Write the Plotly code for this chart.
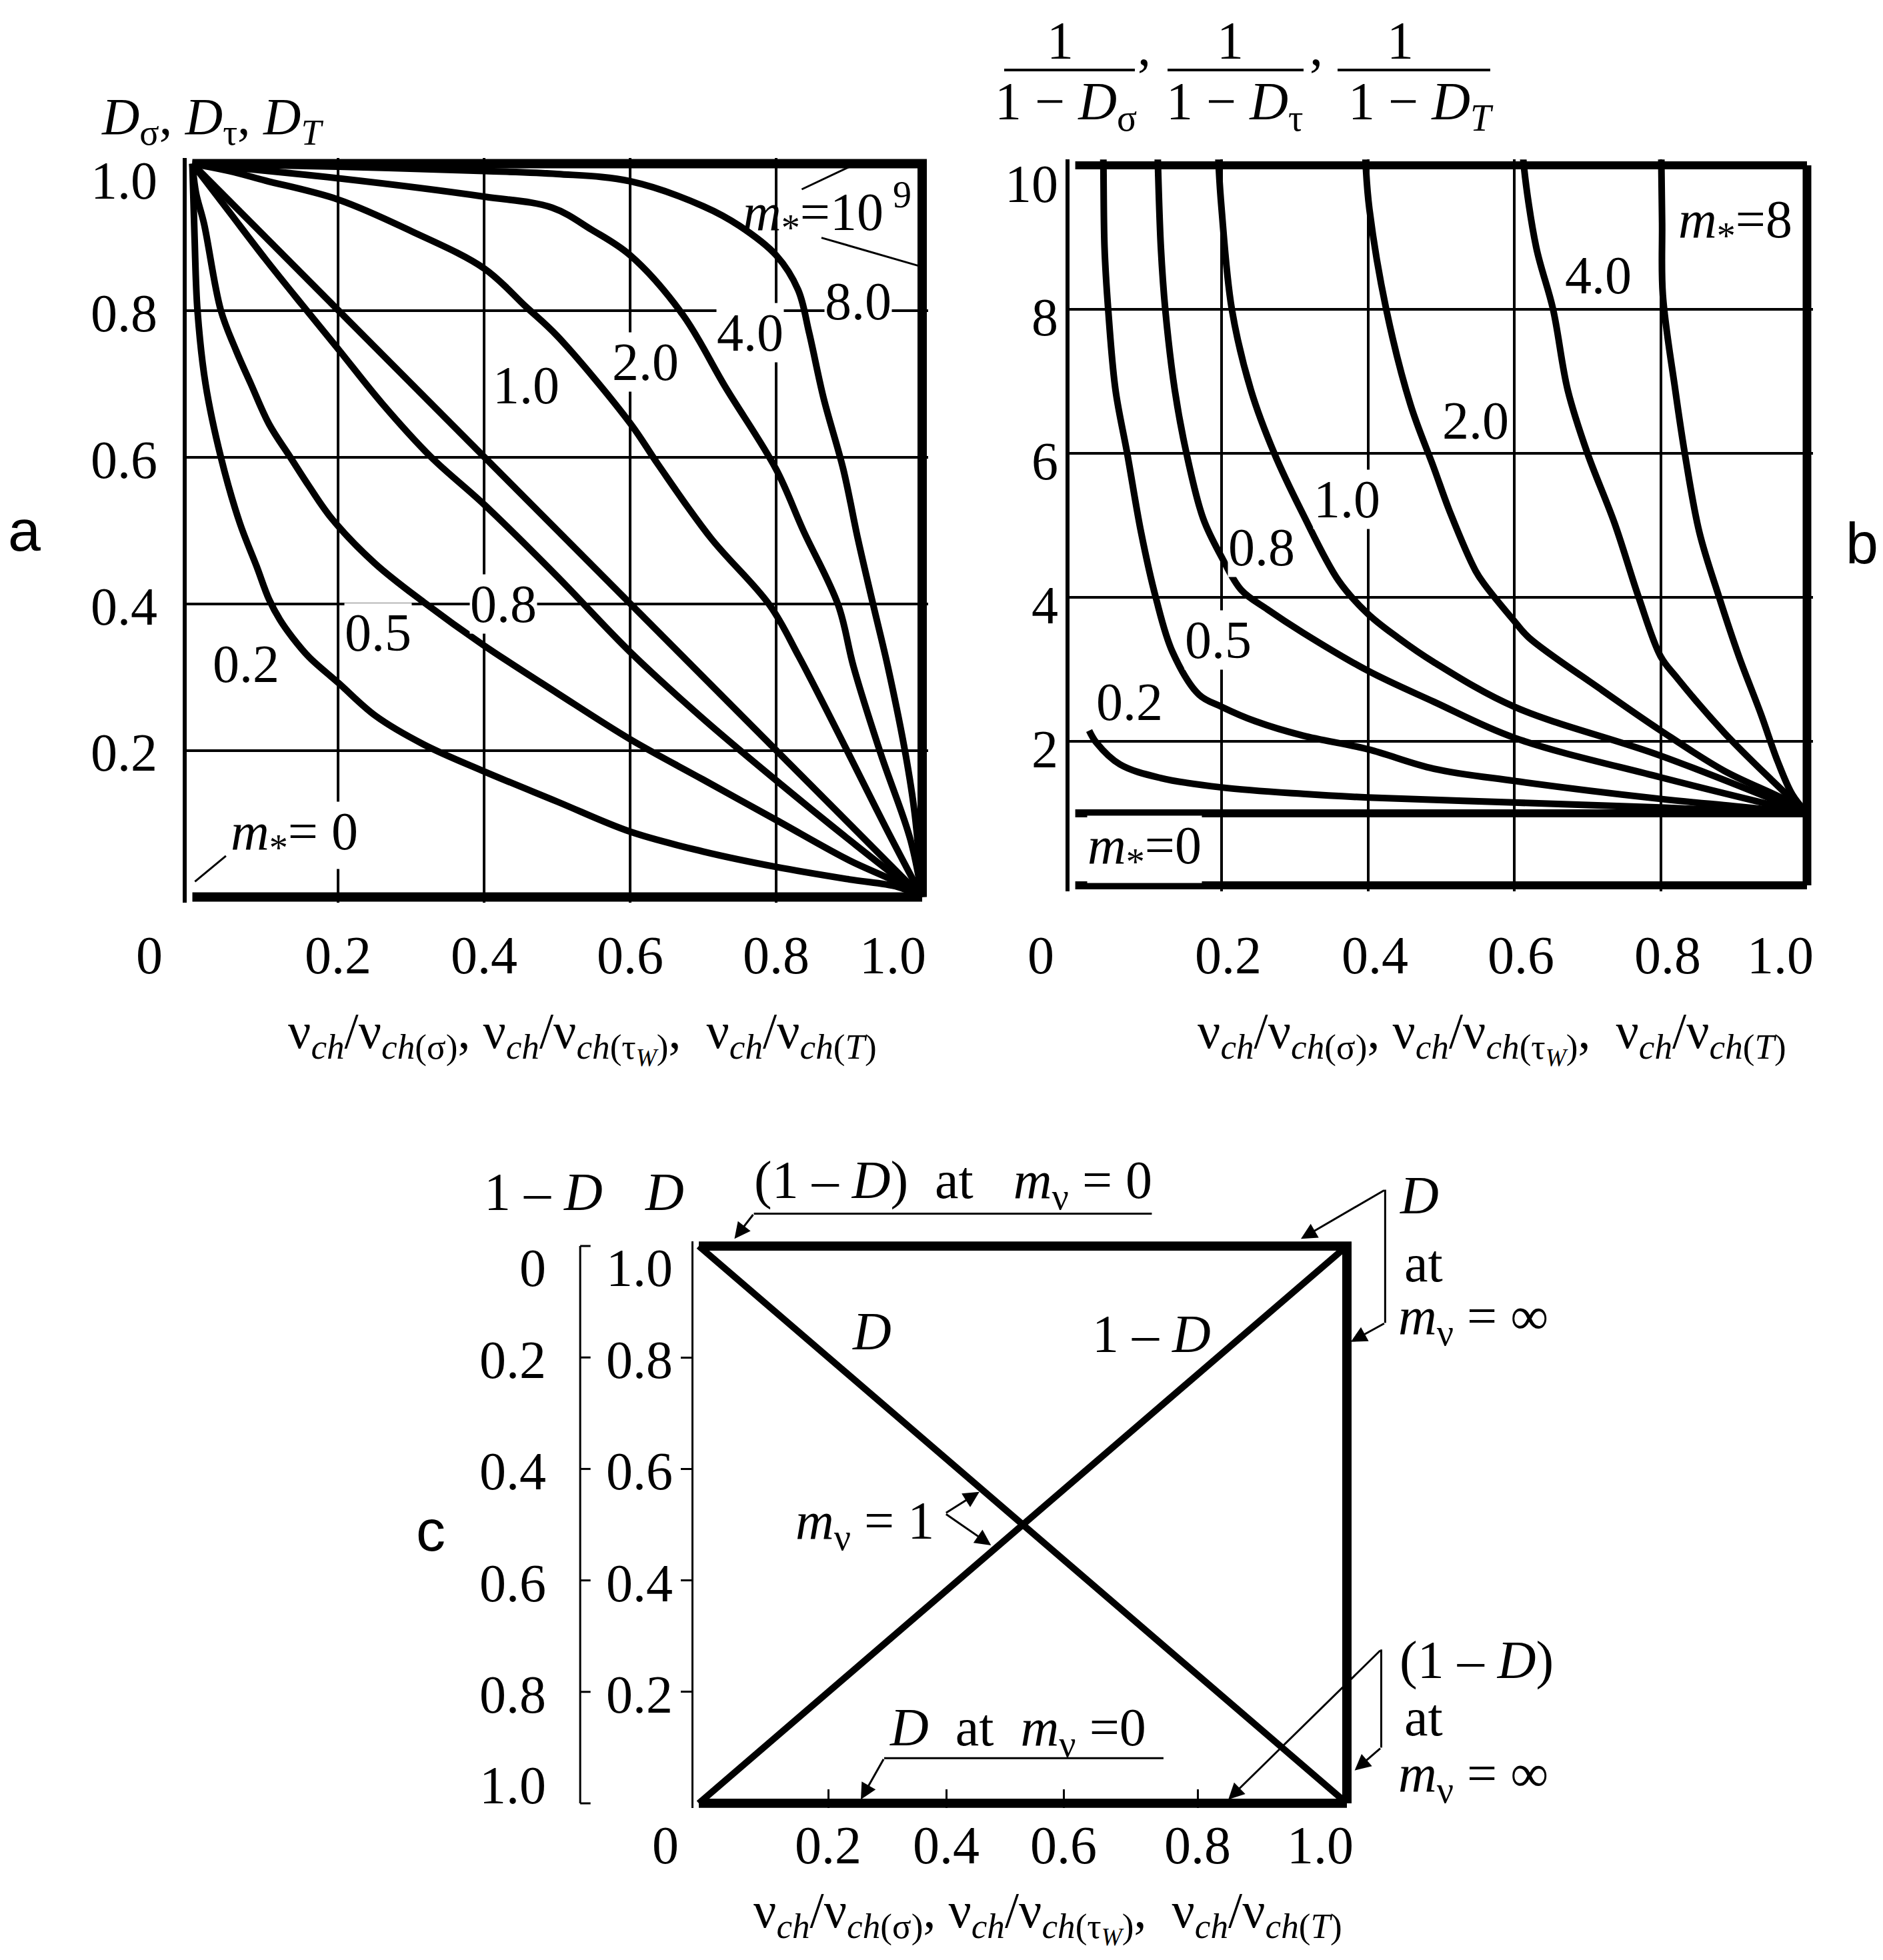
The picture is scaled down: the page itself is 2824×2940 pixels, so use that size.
import plotly.graph_objects as go

W, H = 2824, 2940
SERIF = "Liberation Serif"
SANS = "Liberation Sans"

# ---------------- Panel a : D versus relative frequency ----------------
A_M_LABELS = ["0.2", "0.5", "0.8", "1.0", "2.0", "4.0", "8.0"]
a_x_02 = [0, 0.003, 0.007, 0.018, 0.039, 0.065, 0.088, 0.105, 0.12, 0.137, 0.16, 0.2, 0.251, 0.317, 0.398, 0.5, 0.6, 0.7, 0.8, 0.9, 0.966, 1.0]
a_y_02 = [1, 0.9, 0.8, 0.7, 0.6, 0.51, 0.451, 0.406, 0.378, 0.354, 0.327, 0.292, 0.247, 0.208, 0.172, 0.13, 0.089, 0.062, 0.041, 0.024, 0.014, 0]
a_x_05 = [0, 0.005, 0.016, 0.039, 0.06, 0.08, 0.105, 0.134, 0.16, 0.191, 0.25, 0.317, 0.398, 0.5, 0.6, 0.7, 0.8, 0.9, 0.966, 1.0]
a_y_05 = [1, 0.96, 0.918, 0.8, 0.745, 0.7, 0.645, 0.6, 0.56, 0.516, 0.455, 0.402, 0.344, 0.278, 0.215, 0.16, 0.105, 0.05, 0.02, 0]
a_x_08 = [0, 0.05, 0.1, 0.15, 0.2, 0.26, 0.327, 0.4, 0.5, 0.6, 0.7, 0.8, 0.9, 1.0]
a_y_08 = [1, 0.935, 0.87, 0.808, 0.747, 0.673, 0.6, 0.535, 0.437, 0.334, 0.243, 0.159, 0.078, 0]
a_x_10 = [0, 1.0]
a_y_10 = [1, 0]
a_x_20 = [0, 0.05, 0.1, 0.2, 0.3, 0.4, 0.457, 0.5, 0.6, 0.638, 0.71, 0.791, 0.831, 0.899, 0.95, 1.0]
a_y_20 = [1, 0.99, 0.977, 0.951, 0.908, 0.857, 0.805, 0.765, 0.646, 0.59, 0.49, 0.398, 0.328, 0.196, 0.095, 0]
a_x_40 = [0, 0.2, 0.4, 0.493, 0.547, 0.6, 0.672, 0.73, 0.8, 0.837, 0.885, 0.906, 0.943, 0.984, 1.0]
a_y_40 = [1, 0.98, 0.955, 0.94, 0.91, 0.875, 0.794, 0.696, 0.583, 0.5, 0.398, 0.314, 0.196, 0.078, 0]
a_x_80 = [0, 0.2, 0.4, 0.5, 0.6, 0.7, 0.75, 0.8, 0.83, 0.845, 0.865, 0.892, 0.912, 0.933, 0.953, 0.977, 0.99, 1.0]
a_y_80 = [1, 0.996, 0.99, 0.986, 0.976, 0.942, 0.915, 0.875, 0.828, 0.77, 0.68, 0.583, 0.488, 0.398, 0.314, 0.196, 0.112, 0]
a_x_m0 = [0, 1.0]
a_y_m0 = [0, 0]
a_x_minf = [0, 1.0, 1.0]
a_y_minf = [1, 1, 0]
A_TICKS = [0, 0.2, 0.4, 0.6, 0.8, 1.0]
A_TICK_TEXT = ["0", "0.2", "0.4", "0.6", "0.8", "1.0"]
A_YTICKS = [1.0, 0.8, 0.6, 0.4, 0.2]
A_YTICK_TEXT = ["1.0", "0.8", "0.6", "0.4", "0.2"]

# ---------------- Panel b : 1/(1-D) ----------------
B_M_LABELS = ["0.2", "0.5", "0.8", "1.0", "2.0", "4.0"]
b_x_02 = [0.019, 0.029, 0.061, 0.117, 0.2, 0.311, 0.4, 0.6, 0.8, 1.0]
b_y_02 = [2.15, 1.98, 1.68, 1.49, 1.36, 1.27, 1.22, 1.15, 1.08, 1.0]
b_x_05 = [0.038, 0.0385, 0.04, 0.045, 0.055, 0.071, 0.09, 0.11, 0.133, 0.169, 0.2, 0.246, 0.311, 0.4, 0.49, 0.6, 0.8, 0.9, 1.0]
b_y_05 = [10.4, 10.0, 8.86, 8.0, 6.88, 6.0, 4.9, 4.0, 3.24, 2.65, 2.48, 2.28, 2.08, 1.89, 1.62, 1.45, 1.2, 1.1, 1.0]
b_x_08 = [0.112, 0.113, 0.117, 0.123, 0.136, 0.152, 0.175, 0.2, 0.227, 0.263, 0.311, 0.4, 0.49, 0.6, 0.8, 1.0]
b_y_08 = [10.4, 10.0, 8.86, 8.0, 6.88, 6.0, 5.09, 4.56, 4.1, 3.83, 3.51, 2.98, 2.55, 2.05, 1.5, 1.0]
b_x_10 = [0.195, 0.196, 0.2, 0.214, 0.24, 0.272, 0.311, 0.36, 0.4, 0.441, 0.49, 0.6, 0.8, 1.0]
b_y_10 = [10.4, 10.0, 9.39, 8.0, 6.88, 6.0, 5.16, 4.23, 3.77, 3.44, 3.1, 2.48, 1.8, 1.0]
b_x_20 = [0.396, 0.397, 0.402, 0.425, 0.458, 0.49, 0.513, 0.547, 0.56, 0.6, 0.62, 0.72, 0.8, 0.887, 0.97, 1.0]
b_y_20 = [10.4, 10.0, 9.39, 8.0, 6.68, 5.8, 5.16, 4.37, 4.17, 3.67, 3.44, 2.71, 2.15, 1.59, 1.19, 1.0]
b_x_40 = [0.611, 0.613, 0.63, 0.653, 0.673, 0.7, 0.737, 0.77, 0.8, 0.82, 0.887, 0.953, 1.0]
b_y_40 = [10.4, 10.0, 8.86, 8.0, 6.88, 6.0, 5.03, 4.0, 3.18, 2.91, 2.12, 1.45, 1.0]
b_x_80 = [0.801, 0.801, 0.802, 0.803, 0.82, 0.833, 0.853, 0.88, 0.907, 0.937, 0.96, 0.98, 1.0]
b_y_80 = [10.4, 10.0, 9.2, 8.2, 6.88, 6.0, 4.9, 4.0, 3.18, 2.38, 1.72, 1.26, 1.0]
b_x_m0 = [0, 1.0]
b_y_m0 = [1, 1]
B_XTICKS = [0, 0.2, 0.4, 0.6, 0.8, 1.0]
B_XTICK_TEXT = ["0", "0.2", "0.4", "0.6", "0.8", "1.0"]
B_YTICKS = [10, 8, 6, 4, 2]
B_YTICK_TEXT = ["10", "8", "6", "4", "2"]

# ---------------- Panel c : D and 1-D, limit cases ----------------
c_x_D1 = [0, 1.0]
c_y_D1 = [1, 0]
c_x_1mD1 = [0, 1.0]
c_y_1mD1 = [0, 1]
c_x_Dinf = [0, 1.0, 1.0]
c_y_Dinf = [1, 1, 0]
c_x_D0 = [0, 1.0]
c_y_D0 = [0, 0]
C_XTICKS = [0.2, 0.382, 0.563, 0.77]
C_XTICK_TEXT = ["0.2", "0.4", "0.6", "0.8"]
C_YTICKS = [1.0, 0.8, 0.6, 0.4, 0.2, 0.0]
C_D_TEXT = ["1.0", "0.8", "0.6", "0.4", "0.2", ""]
C_1MD_TEXT = ["0", "0.2", "0.4", "0.6", "0.8", "1.0"]

XTITLE = ("ν<sub><i>ch</i></sub>/ν<sub><i>ch</i>(σ)</sub>, "
          "ν<sub><i>ch</i></sub>/ν<sub><i>ch</i>(τ<sub><i>W</i></sub>)</sub>,  "
          "ν<sub><i>ch</i></sub>/ν<sub><i>ch</i>(<i>T</i>)</sub>")

# axis ranges of each panel and pixel scale (px per data unit, origin pixel)
RANGES = {
    "a": ((-0.008, 1.008), (-0.008, 1.008), "x", "y"),
    "b": ((-0.008, 1.008), (-0.08, 10.08), "x2", "y2"),
    "c": ((-0.008, 1.008), (-0.008, 1.008), "x3", "y3"),
}
PIX = {  # (x origin px, px per unit x, y origin px, px per unit y)
    "a": (280.5, 1094.5, 1337.5, 1100.0),
    "b": (1604.6, 1097.4, 1320.0, 108.0),
    "c": (1040.0, 972.0, 2697.0, 836.0),
}


def domains(p):
    (x0, x1), (y0, y1), _, _ = RANGES[p]
    ox, sx, oy, sy = PIX[p]
    return ([(ox + x0 * sx) / W, (ox + x1 * sx) / W],
            [1 - (oy - y0 * sy) / H, 1 - (oy - y1 * sy) / H])


fig = go.Figure()


def line(x, y, xa, ya, w=10, smooth=True):
    fig.add_trace(go.Scatter(
        x=x, y=y, mode="lines", xaxis=xa, yaxis=ya, showlegend=False, hoverinfo="skip",
        line=dict(color="black", width=w, shape="spline" if smooth else "linear",
                  smoothing=1.0 if smooth else None)))


for xs, ys in [(a_x_02, a_y_02), (a_x_05, a_y_05), (a_x_08, a_y_08), (a_x_10, a_y_10),
               (a_x_20, a_y_20), (a_x_40, a_y_40), (a_x_80, a_y_80)]:
    line(xs, ys, "x", "y", 10)
line(a_x_m0, a_y_m0, "x", "y", 14, False)
line(a_x_minf, a_y_minf, "x", "y", 14, False)

for xs, ys in [(b_x_02, b_y_02), (b_x_05, b_y_05), (b_x_08, b_y_08), (b_x_10, b_y_10),
               (b_x_20, b_y_20), (b_x_40, b_y_40), (b_x_80, b_y_80)]:
    line(xs, ys, "x2", "y2", 10)
line(b_x_m0, b_y_m0, "x2", "y2", 12, False)

line(c_x_D1, c_y_D1, "x3", "y3", 10, False)
line(c_x_1mD1, c_y_1mD1, "x3", "y3", 10, False)
line(c_x_Dinf, c_y_Dinf, "x3", "y3", 14, False)
line(c_x_D0, c_y_D0, "x3", "y3", 14, False)


def P(X, Y):
    return X / W, 1 - Y / H


AX = dict(showticklabels=False, zeroline=False, ticks="", fixedrange=True)
dax, day = domains("a")
dbx, dby = domains("b")
dcx, dcy = domains("c")
fig.update_layout(
    width=W, height=H, autosize=False, margin=dict(l=0, r=0, t=0, b=0),
    paper_bgcolor="white", plot_bgcolor="white",
    xaxis=dict(AX, domain=dax, range=list(RANGES["a"][0]), showgrid=True,
               tickvals=[0.2, 0.4, 0.6, 0.8], gridcolor="black", gridwidth=3.5, anchor="y"),
    yaxis=dict(AX, domain=day, range=list(RANGES["a"][1]), showgrid=True,
               tickvals=[0.2, 0.4, 0.6, 0.8], gridcolor="black", gridwidth=3.5,
               showline=True, linecolor="black", linewidth=6, anchor="x"),
    xaxis2=dict(AX, domain=dbx, range=list(RANGES["b"][0]), showgrid=True,
                tickvals=[0.2, 0.4, 0.6, 0.8], gridcolor="black", gridwidth=3.5, anchor="y2"),
    yaxis2=dict(AX, domain=dby, range=list(RANGES["b"][1]), showgrid=True,
                tickvals=[2, 4, 6, 8], gridcolor="black", gridwidth=3.5,
                showline=True, linecolor="black", linewidth=6, anchor="x2"),
    xaxis3=dict(zeroline=False, fixedrange=True, domain=dcx,
                range=list(RANGES["c"][0]), showgrid=False, showticklabels=False,
                tickvals=C_XTICKS, ticks="inside", ticklen=28, tickwidth=3, tickcolor="black",
                anchor="y3"),
    yaxis3=dict(zeroline=False, fixedrange=True, domain=dcy,
                range=list(RANGES["c"][1]), showgrid=False, showticklabels=False,
                tickvals=[0.2, 0.4, 0.6, 0.8], ticks="outside", ticklen=16, tickwidth=3,
                tickcolor="black", showline=True, linecolor="black", linewidth=3, anchor="x3"),
)

shapes = []
anns = []


def D(panel, x, y):
    """data value -> axis-domain fraction, so that out-of-range texts are still drawn"""
    (x0, x1), (y0, y1), xa, ya = RANGES[panel]
    return (x - x0) / (x1 - x0), (y - y0) / (y1 - y0), xa + " domain", ya + " domain"


def seg(panel, x0, y0, x1, y1, w=3):
    if panel == "paper":
        a0, b0, xr, yr = x0, y0, "paper", "paper"
        a1, b1 = x1, y1
    else:
        a0, b0, xr, yr = D(panel, x0, y0)
        a1, b1, _, _ = D(panel, x1, y1)
    shapes.append(dict(type="line", x0=a0, y0=b0, x1=a1, y1=b1, xref=xr, yref=yr,
                       line=dict(color="black", width=w), layer="above"))


def txt(text, panel, x, y, size=80, xanchor="center", yanchor="middle", bg=None,
        font=SERIF, xshift=0, yshift=0):
    if panel == "paper":
        px, py, xr, yr = x, y, "paper", "paper"
    else:
        px, py, xr, yr = D(panel, x, y)
    d = dict(text=text, x=px, y=py, xref=xr, yref=yr, showarrow=False, xanchor=xanchor,
             yanchor=yanchor, font=dict(family=font, size=size, color="black"),
             xshift=xshift, yshift=yshift, borderpad=0)
    if bg:
        d["bgcolor"] = bg
    anns.append(d)


def arrow(panel, xh, yh, xt, yt):
    hx, hy, xr, yr = D(panel, xh, yh)
    tx, ty, _, _ = D(panel, xt, yt)
    anns.append(dict(text="", x=hx, y=hy, ax=tx, ay=ty, xref=xr, yref=yr,
                     axref=xr, ayref=yr, showarrow=True, arrowhead=2, arrowsize=1.6,
                     arrowwidth=3, arrowcolor="black", standoff=0, startstandoff=0))


# ---- panel a annotations ----
A_LBL_POS = [(0.0736, 0.318), (0.254, 0.36), (0.426, 0.40), (0.457, 0.698),
             (0.621, 0.73), (0.764, 0.77), (0.9126, 0.812)]
for lab, (x, y) in zip(A_M_LABELS, A_LBL_POS):
    txt(lab, "a", x, y, bg="white")
txt("<i>m</i><sub>*</sub>=10<sup> 9</sup>", "a", 0.87, 0.935)
seg("a", 0.835, 0.965, 0.903, 0.997)
seg("a", 0.862, 0.899, 0.994, 0.861)
txt("<i>m</i><sub>*</sub>= 0", "a", 0.14, 0.084, bg="white")
seg("a", 0.046, 0.056, 0.0035, 0.021)

for v, t in zip(A_TICKS, A_TICK_TEXT):
    xs = -65 if v == 0 else (-44 if v == 1.0 else 0)
    txt(t, "a", v, -0.0795, xshift=xs)
for v, t in zip(A_YTICKS, A_YTICK_TEXT):
    ys = -25 if v == 1.0 else -4
    txt(t, "a", -0.047, v, xanchor="right", yshift=ys)

# ---- panel b annotations ----
B_LBL_POS = [(0.074, 2.55), (0.195, 3.41), (0.255, 4.69), (0.371, 5.36),
             (0.547, 6.45), (0.715, 8.47)]
for lab, (x, y) in zip(B_M_LABELS, B_LBL_POS):
    txt(lab, "b", x, y, bg="white")
txt("<i>m</i><sub>*</sub>=8", "b", 0.902, 9.19, bg="white")
txt("<i>m</i><sub>*</sub>=0", "b", 0.095, 0.5, bg="white")
for v, t in zip(B_XTICKS, B_XTICK_TEXT):
    xs = -52 if v == 0 else (-40 if v == 1.0 else 10)
    txt(t, "b", v, -0.97, xshift=xs)
for v, t in zip(B_YTICKS, B_YTICK_TEXT):
    ys = -28 if v == 10 else -12
    txt(t, "b", -0.022, v, xanchor="right", yshift=ys)
# frame of b (top, right, bottom)
seg("b", 0, 10.0, 1.0, 10.0, 12)
seg("b", 1.0, 0, 1.0, 10.0, 13)
seg("b", 0, 0, 1.0, 0, 12)

# ---- panel c annotations ----
for v, t in zip(C_XTICKS + [1.0, 0.0], C_XTICK_TEXT + ["1.0", "0"]):
    xs = -40 if v == 1.0 else (-50 if v == 0 else 0)
    txt(t, "c", v, -0.075, xshift=xs)
for v, t1, t2 in zip(C_YTICKS, C_D_TEXT, C_1MD_TEXT):
    ys = -33 if v == 1.0 else (27 if v == 0 else -4)
    if t1:
        txt(t1, "c", -0.039, v, xanchor="right", yshift=ys)
    txt(t2, "c", -0.235, v, xanchor="right", yshift=ys)
# bracket for the 1-D scale
seg("c", -0.183, 0, -0.183, 1.0)
for v in C_YTICKS:
    seg("c", -0.183, v, -0.167, v)

txt("1 – <i>D</i>", "c", -0.24, 1.097)
txt("<i>D</i>", "c", -0.053, 1.097)
txt("(1 – <i>D</i>)  at   <i>m</i><sub>ν</sub> = 0", "c", 0.392, 1.111)
seg("c", 0.085, 1.058, 0.699, 1.058)
arrow("c", 0.055, 1.013, 0.085, 1.058)

txt("<i>D</i>", "c", 1.112, 1.091)
txt("at", "c", 1.118, 0.969)
txt("<i>m</i><sub>ν</sub> = ∞", "c", 1.195, 0.867)
seg("c", 1.059, 1.101, 1.059, 0.862)
arrow("c", 0.929, 1.013, 1.059, 1.101)
arrow("c", 1.006, 0.828, 1.059, 0.862)

txt("<i>D</i>", "c", 0.267, 0.847)
txt("1 – <i>D</i>", "c", 0.699, 0.842)
txt("<i>m</i><sub>ν</sub> = 1", "c", 0.256, 0.5)
arrow("c", 0.433, 0.559, 0.38, 0.52)
arrow("c", 0.451, 0.463, 0.38, 0.52)

txt("<i>D</i>  at  <i>m</i><sub>ν</sub> =0", "c", 0.492, 0.129)
seg("c", 0.286, 0.081, 0.717, 0.081)
arrow("c", 0.25, 0.007, 0.286, 0.081)

txt("(1 – <i>D</i>)", "c", 1.2, 0.256)
txt("at", "c", 1.118, 0.154)
txt("<i>m</i><sub>ν</sub> = ∞", "c", 1.195, 0.047)
seg("c", 1.053, 0.276, 1.053, 0.1)
arrow("c", 0.817, 0.007, 1.053, 0.276)
arrow("c", 1.012, 0.059, 1.053, 0.1)

# ---- titles ----
px, py = P(310, 172)
txt("<i>D</i><sub>σ</sub>, <i>D</i><sub>τ</sub>, <i>D</i><sub><i>T</i></sub>", "paper", px, py, size=78)
for X, Y in [(865, 1547), (2229.5, 1547), (1564, 2866)]:
    px, py = P(X, Y)
    txt(XTITLE, "paper", px, py, size=76)
for t, X, Y in [("a", 28, 787.5), ("b", 2784, 806), ("c", 637.5, 2287.5)]:
    px, py = P(X, Y)
    txt(t, "paper", px, py, size=88, font=SANS)

# fraction header of panel b
for num_x, den_x, den_t, bar in [
        (1582, 1590, "1 − <i>D</i><sub>σ</sub>", (1498, 1694)),
        (1837, 1843, "1 − <i>D</i><sub>τ</sub>", (1743, 1947)),
        (2092, 2123, "1 − <i>D</i><sub><i>T</i></sub>", (1998, 2227))]:
    px, py = P(num_x, 53)
    txt("1", "paper", px, py)
    px, py = P(den_x, 150)
    txt(den_t, "paper", px, py)
    x0, y0 = P(bar[0], 97)
    x1, _ = P(bar[1], 97)
    seg("paper", x0, y0, x1, y0, 4)
for X in [1708, 1966]:
    px, py = P(X, 62)
    txt(",", "paper", px, py)

fig.update_layout(shapes=shapes, annotations=anns)
fig.write_html("out.html")
